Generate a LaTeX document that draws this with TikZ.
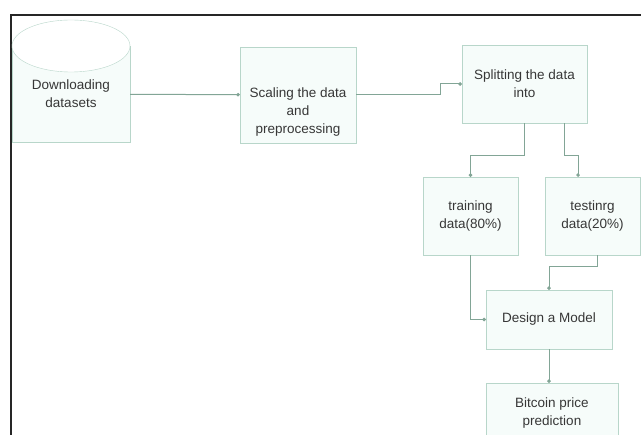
\documentclass[tikz,border=0pt]{standalone}
\usepackage{fontspec}
\setmainfont{Liberation Sans}
\usetikzlibrary{arrows.meta}
\definecolor{boxline}{RGB}{184,214,202}
\definecolor{boxfill}{RGB}{246,252,250}
\definecolor{wire}{RGB}{130,165,150}
\definecolor{ink}{RGB}{55,55,55}

\begin{document}
\begin{tikzpicture}
  [x=1pt,y=-1pt,every node/.style={rectangle,draw=boxline,fill=boxfill,text=ink,align=center,inner sep=0pt,font=\fontsize{13.5}{18}\selectfont},
   wire/.style={draw=wire,line width=1pt,-{Circle[length=3.5pt]}}]
  \clip (0,0) rectangle (641,435);
  \fill[white] (0,0) rectangle (641,435);
  \draw[line width=2pt,black!85] (11,435) -- (11,15) -- (641,15);

  \node[minimum width=118pt,minimum height=96pt] (1) at (71,94) {Downloading\\datasets};
  \draw[boxline,fill=white] (71,46) ellipse [x radius=59pt, y radius=26pt];
  \node[minimum width=116pt,minimum height=96pt] (2) at (298,95) {\rule{0pt}{44pt}Scaling the data\\and\\preprocessing};
  \node[minimum width=125pt,minimum height=78pt] (3) at (524.5,84) {Splitting the data\\into};
  \node[minimum width=95pt,minimum height=78pt] (4) at (470.5,216) {training\\data(80\%)};
  \node[minimum width=95pt,minimum height=78pt] (5) at (592.5,216) {testinrg\\data(20\%)};
  \node[minimum width=126pt,minimum height=59pt] (6) at (549,319.5) {Design a Model};
  \node[minimum width=132pt,minimum height=60pt] (7) at (552,413) {Bitcoin price\\prediction};

  \draw[wire] (1) -- (2);
  \draw[wire] (2.east) -- ++(84,0) |- (3.west);
  \draw[wire] (3.south) -- ++(0,32) -| (4.north);
  \draw[wire] ([xshift=40pt]3.south) -- ++(0,32) -| ([xshift=-14.5pt]5.north);
  \draw[wire] ([xshift=4.5pt]5.south) -- ++(0,11) -| (6.north);
  \draw[wire] (4.south) |- (6.west);
  \draw[wire] (6.south) -- (6.south |- 7.north);

\end{tikzpicture}
\end{document}
